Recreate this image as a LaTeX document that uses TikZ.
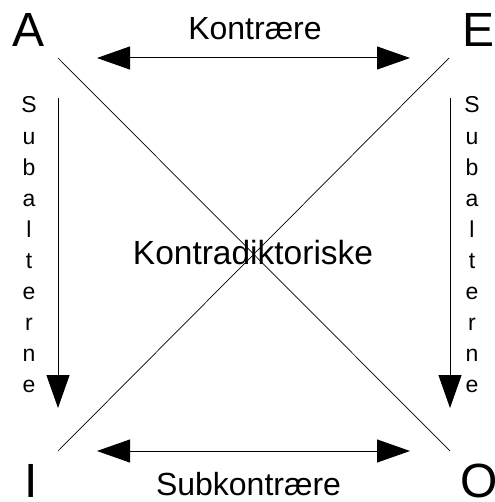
\documentclass[tikz,border=0pt]{standalone}
\usepackage{fontspec}
\setmainfont{Liberation Sans}
\usetikzlibrary{arrows.meta}
\begin{document}
\begin{tikzpicture}[x=1pt,y=-1pt,
  corner/.style={anchor=base, inner sep=0pt, font=\fontsize{48}{50}\selectfont},
  relname/.style={anchor=base, inner sep=0pt, font=\fontsize{32}{34}\selectfont},
  vletter/.style={anchor=base, inner sep=0pt, font=\fontsize{23}{26}\selectfont},
  diag/.style={line width=0.7pt},
  tip/.tip={Triangle[length=33pt,width=23pt]},
  oneway/.style={line width=1pt, -tip},
  twoway/.style={line width=1pt, tip-tip}]
\useasboundingbox (0,0) rectangle (494,502);

% corner letters of the square of opposition
\node[corner] (A) at (28.5,47) {A};
\node[corner] (E) at (478.5,47) {E};
\node[corner] (I) at (31.5,497) {I};
\node[corner] (O) at (479,497) {O};

% end points of the relations
\coordinate (dA) at (58,58);
\coordinate (dE) at (449,58);
\coordinate (dI) at (58,451);
\coordinate (dO) at (450,451);
\coordinate (tl) at (97,58);
\coordinate (tr) at (410,58);
\coordinate (bl) at (97,451);
\coordinate (br) at (410,451);
\coordinate (lt) at (58,98);
\coordinate (lb) at (58,408);
\coordinate (rt) at (450,98);
\coordinate (rb) at (450,408);

% contradictories
\draw[diag] (dA) -- (dO);
\draw[diag] (dE) -- (dI);
\node[relname, font=\fontsize{33.5}{36}\selectfont] (kd) at (253,264) {Kontradiktoriske};

% contraries and subcontraries
\draw[twoway] (tl) -- (tr);
\node[relname] (kt) at (255,40) {Kontrære};
\draw[twoway] (bl) -- (br);
\node[relname] (sk) at (248.5,495) {Subkontrære};

% subalterns
\draw[oneway] (lt) -- (lb);
\draw[oneway] (rt) -- (rb);
\foreach \ch [count=\i] in {S,u,b,a,l,t,e,r,n,e} {
  \node[vletter] (sl\i) at (29,{113+31.1*(\i-1)}) {\ch};
  \node[vletter] (sr\i) at (472,{113+31.1*(\i-1)}) {\ch};
}
\end{tikzpicture}
\end{document}
